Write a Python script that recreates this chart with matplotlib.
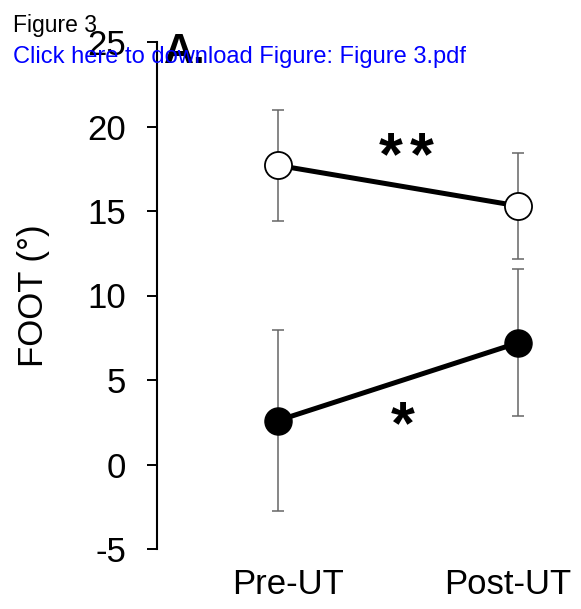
import matplotlib
matplotlib.use("Agg")
import matplotlib.pyplot as plt

plt.rcParams['font.family'] = ['Liberation Sans', 'DejaVu Sans']

categories = ["Pre-UT", "Post-UT"]
open_mean = [17.7, 15.3]
open_err = [3.3, 3.15]
filled_mean = [2.6, 7.2]
filled_err = [5.35, 4.35]
yticks = [-5, 0, 5, 10, 15, 20, 25]

W, H = 581, 609
fig = plt.figure(figsize=(W / 100, H / 100), dpi=100)
left_px, right_px, top_px, bot_px = 157, 581, 42, 549
ax = fig.add_axes([left_px / W, (H - bot_px) / H, (right_px - left_px) / W, (bot_px - top_px) / H])

x = [0, 1]
err_kw = dict(fmt='none', ecolor='#666666', elinewidth=1.1, capsize=4.5, capthick=1.1, zorder=1)
ax.errorbar(x, open_mean, yerr=open_err, **err_kw)
ax.errorbar(x, filled_mean, yerr=filled_err, **err_kw)
ax.plot(x, open_mean, color='black', lw=3.6, marker='o', ms=19.5, mfc='white',
        mec='black', mew=1.3, zorder=3)
ax.plot(x, filled_mean, color='black', lw=3.6, marker='o', ms=19.5, mfc='black',
        mec='black', zorder=3)

ax.set_xlim(-0.504, 1.2625)
ax.set_ylim(-5, 25)
ax.set_yticks(yticks)
ax.set_yticklabels([str(v) for v in yticks])
ax.set_xticks([0.042, 0.958])
ax.set_xticklabels(categories)

for s in ['top', 'right', 'bottom']:
    ax.spines[s].set_visible(False)
ax.spines['left'].set_linewidth(1.5)
ax.tick_params(axis='y', direction='out', length=7.2, width=1.4, pad=15, labelsize=25)
ax.tick_params(axis='x', length=0, pad=14, labelsize=25)

# significance markers
ax.text(0.47, 18.1, "*", ha='center', va='center', fontsize=44, fontweight='bold')
ax.text(0.60, 18.1, "*", ha='center', va='center', fontsize=44, fontweight='bold')
ax.text(0.52, 2.2, "*", ha='center', va='center', fontsize=44, fontweight='bold')

fig.text(34 / W, 1 - 296 / H, "FOOT (°)", rotation=90, ha='center', va='center', fontsize=25)
fig.text(13 / W, 1 - 32 / H, "Figure 3", ha='left', va='baseline', fontsize=16.5)
fig.text(164 / W, 1 - 63 / H, "A.", ha='left', va='baseline', fontsize=30, fontweight='bold')
fig.text(13 / W, 1 - 63 / H, "Click here to download Figure: Figure 3.pdf", ha='left',
         va='baseline', fontsize=17, color='#0000ff')

fig.savefig("out.png", dpi=100)
